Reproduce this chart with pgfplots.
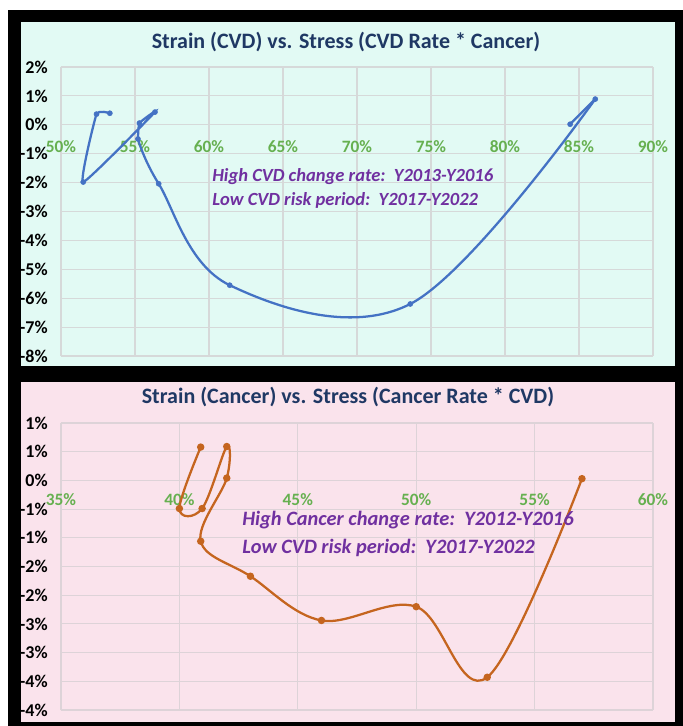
\documentclass[border=0pt]{standalone}
\usepackage{pgfplots}
\pgfplotsset{compat=1.18}
\usepackage{fontspec}
\setmainfont{Carlito}
\definecolor{bgcyan}{HTML}{E2FAF4}
\definecolor{bgpink}{HTML}{FAE3EC}
\definecolor{gridc}{HTML}{D6D9D9}
\definecolor{gridp}{HTML}{DDD3D8}
\definecolor{ttl}{HTML}{1F3864}
\definecolor{xlab}{HTML}{66B050}
\definecolor{note}{HTML}{7030A0}
\definecolor{blueline}{HTML}{4472C4}
\definecolor{orangeline}{HTML}{C5651F}

\begin{document}
\begin{tikzpicture}[x=0.75pt,y=0.75pt]
\fill[white] (0,0) rectangle (683,726);
\fill[black] (8,0) rectangle (683,716);
\fill[bgcyan] (21,360) rectangle (675,704);
\fill[bgpink] (21,4) rectangle (675,344);

\pgfplotsset{
 mystyle/.style={
  scale only axis, width=444pt,
  axis x line=middle, axis y line=left,
  axis line style={draw=none},
  x axis line style={-}, y axis line style={-},
  major tick length=0pt,
  grid=major,
  hide obscured x ticks=false, hide obscured y ticks=false,
  xticklabel style={font=\fontsize{13}{15}\selectfont\bfseries, text=xlab, anchor=center},
  yticklabel style={font=\fontsize{13.5}{15}\selectfont\bfseries, anchor=east, inner sep=0pt, xshift=-9.75pt},
  anchor=south west,
 }
}

\begin{axis}[mystyle, at={(45.75pt,277.5pt)}, height=216.75pt,
 grid style={gridc, line width=0.8pt},
 xticklabel style={yshift=-16.5pt},
 xmin=50, xmax=90, ymin=-8, ymax=2,
 xtick={50,55,60,65,70,75,80,85,90},
 xticklabels={50\%,55\%,60\%,65\%,70\%,75\%,80\%,85\%,90\%},
 ytick={-8,-7,-6,-5,-4,-3,-2,-1,0,1,2},
 yticklabels={-8\%,-7\%,-6\%,-5\%,-4\%,-3\%,-2\%,-1\%,0\%,1\%,2\%}]
% early years: short, nearly straight segments
\addplot[blueline, line width=1.7pt, smooth, tension=0.25, mark=none] coordinates {
(53.3,0.40) (52.4,0.37) (51.5,-1.98) (56.35,0.44) (55.3,0.06) (55.2,-0.49)};
% long smooth sweep
\addplot[blueline, line width=1.7pt, smooth, tension=0.6, mark=none] coordinates {
(55.2,-0.49) (56.6,-2.04) (61.4,-5.55) (73.6,-6.2) (86.1,0.89)};
\addplot[blueline, line width=1.7pt, mark=none] coordinates {
(86.1,0.89) (84.4,0.02)};
\addplot[only marks, mark=*, mark size=1.9pt, blueline, mark options={fill=blueline, draw=blueline}] coordinates {
(53.3,0.40) (52.4,0.37) (51.5,-1.98) (56.35,0.44) (55.3,0.06) (55.2,-0.49) (56.6,-2.04) (61.4,-5.55) (73.6,-6.2) (86.1,0.89) (84.4,0.02)};
\end{axis}

\begin{axis}[mystyle, at={(45.75pt,12pt)}, height=215.25pt,
 grid style={gridp, line width=0.8pt},
 xticklabel style={yshift=-14.25pt},
 xmin=35, xmax=60, ymin=-4, ymax=1,
 xtick={35,40,45,50,55,60},
 xticklabels={35\%,40\%,45\%,50\%,55\%,60\%},
 ytick={-4,-3.5,-3,-2.5,-2,-1.5,-1,-0.5,0,0.5,1},
 yticklabels={-4\%,-4\%,-3\%,-3\%,-2\%,-2\%,-1\%,-1\%,0\%,1\%,1\%}]
\addplot[orangeline, line width=1.7pt, smooth, tension=0.6, mark=*, mark size=1.9pt, mark options={fill=orangeline, draw=orangeline}] coordinates {
(40.9,0.58) (40.0,-0.49) (40.96,-0.49) (42.0,0.59) (42.0,0.04) (40.9,-1.06) (43.0,-1.67) (46.0,-2.44) (50.0,-2.2) (53.0,-3.43) (57.0,0.03)};
\end{axis}

\node[text=ttl, font=\fontsize{16.5}{20}\selectfont\bfseries] at (346,684) {Strain (CVD) vs. Stress (CVD Rate * Cancer)};
\node[text=ttl, font=\fontsize{16.5}{20}\selectfont\bfseries] at (348,329) {Strain (Cancer) vs. Stress (Cancer Rate * CVD)};
\node[anchor=west, inner sep=0pt, text=note, font=\fontsize{13.9}{16}\selectfont\bfseries\itshape] at (212,549) {High CVD change rate:\ \ Y2013-Y2016};
\node[anchor=west, inner sep=0pt, text=note, font=\fontsize{13.9}{16}\selectfont\bfseries\itshape] at (212,526) {Low CVD risk period:\ \ Y2017-Y2022};
\node[anchor=west, inner sep=0pt, text=note, font=\fontsize{15.3}{18}\selectfont\bfseries\itshape] at (242,206) {High Cancer change rate:\ \ Y2012-Y2016};
\node[anchor=west, inner sep=0pt, text=note, font=\fontsize{15.3}{18}\selectfont\bfseries\itshape] at (242,178) {Low CVD risk period:\ \ Y2017-Y2022};
\end{tikzpicture}
\end{document}
